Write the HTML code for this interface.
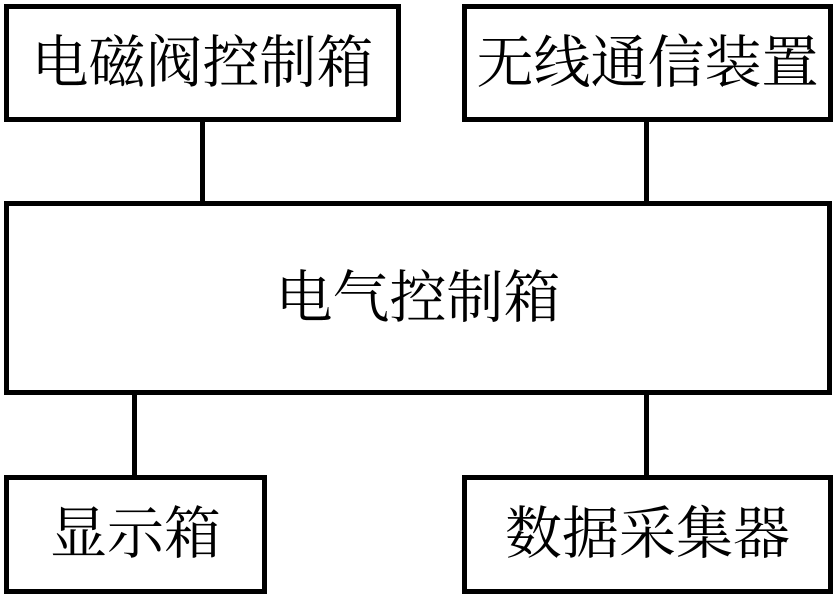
<!DOCTYPE html>
<html><head><meta charset="utf-8"><style>
body{margin:0;width:834px;height:595px;background:#fff;position:relative;overflow:hidden}
.b{position:absolute;border:5px solid #000;box-sizing:border-box;display:flex;align-items:center;justify-content:center;font-family:"Liberation Serif","Noto Serif CJK SC",serif;font-size:57px;color:#000;line-height:1}
.l{position:absolute;background:#000;width:5px}
</style></head><body>
<div class="b" style="left:4px;top:4px;width:397px;height:118px">电磁阀控制箱</div>
<div class="b" style="left:462px;top:4px;width:371px;height:118px">无线通信装置</div>
<div class="b" style="left:4px;top:201px;width:828px;height:194px">电气控制箱</div>
<div class="b" style="left:4px;top:475px;width:263px;height:119px">显示箱</div>
<div class="b" style="left:462px;top:475px;width:371px;height:119px">数据采集器</div>
<div class="l" style="left:200px;top:120px;height:84px"></div>
<div class="l" style="left:644px;top:120px;height:84px"></div>
<div class="l" style="left:132px;top:392px;height:86px"></div>
<div class="l" style="left:644px;top:392px;height:86px"></div>
</body></html>
